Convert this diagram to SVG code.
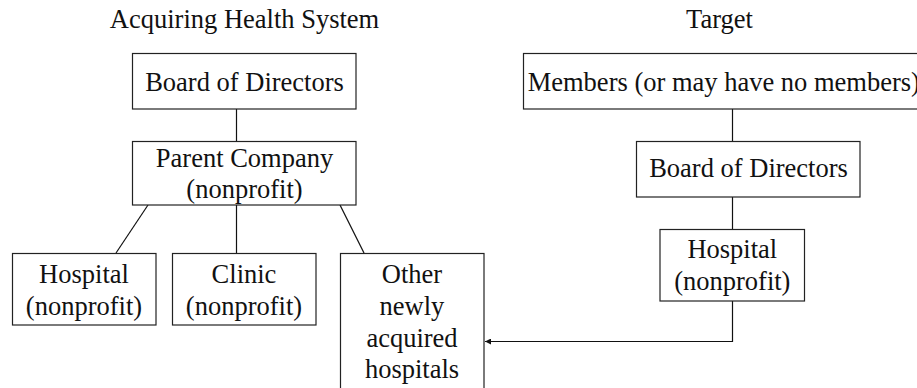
<svg xmlns="http://www.w3.org/2000/svg" width="917" height="388" viewBox="0 0 917 388">
<style>
  text { font-family: 'Liberation Serif', Tinos, 'Times New Roman', Times, 'DejaVu Serif', serif; font-size: 26.5px; fill: #111; text-anchor: middle; }
  .box { fill: #fff; stroke: #222; stroke-width: 1.2; }
  .ln { fill: none; stroke: #111; stroke-width: 1.2; }
</style>
<defs>
  <marker id="arr" viewBox="0 0 10 10" refX="10" refY="5" markerWidth="6" markerHeight="6" markerUnits="userSpaceOnUse" orient="auto">
    <path d="M0,0 L10,5 L0,10 Z" fill="#111"/>
  </marker>
</defs>
<g font-family="'Liberation Serif', Tinos, 'Times New Roman', Times, 'DejaVu Serif', serif">
<text x="244.5" y="27.5">Acquiring Health System</text>
<text x="719.5" y="27.5">Target</text>
<g id="connectors">
  <line class="ln" x1="236.5" y1="109" x2="236.5" y2="141"/>
  <line class="ln" x1="148" y1="205" x2="116" y2="253"/>
  <line class="ln" x1="236.5" y1="205" x2="236.5" y2="253"/>
  <line class="ln" x1="340" y1="205" x2="364" y2="253"/>
  <line class="ln" x1="732.5" y1="109" x2="732.5" y2="141"/>
  <line class="ln" x1="732.5" y1="197" x2="732.5" y2="229"/>
  <polyline class="ln" points="732.5,301 732.5,341.5 485,341.5" marker-end="url(#arr)"/>
</g>
<g id="acq-board">
  <rect class="box" x="132.5" y="53.5" width="223.5" height="55.5"/>
  <text x="244.5" y="90.5">Board of Directors</text>
</g>
<g id="parent">
  <rect class="box" x="132.5" y="141.5" width="223.5" height="63.5"/>
  <text x="244.5" y="166.7">Parent Company</text>
  <text x="244.5" y="198">(nonprofit)</text>
</g>
<g id="acq-hospital">
  <rect class="box" x="12.5" y="253.5" width="143.5" height="71.5"/>
  <text x="84" y="283.3">Hospital</text>
  <text x="84" y="314.5">(nonprofit)</text>
</g>
<g id="clinic">
  <rect class="box" x="172.5" y="253.5" width="143.5" height="71.5"/>
  <text x="244" y="283.3">Clinic</text>
  <text x="244" y="314.5">(nonprofit)</text>
</g>
<g id="other">
  <rect class="box" x="340.5" y="253.5" width="143.5" height="150"/>
  <text x="412" y="283.3">Other</text>
  <text x="412" y="315">newly</text>
  <text x="412" y="346.7">acquired</text>
  <text x="412" y="378.3">hospitals</text>
</g>
<g id="members">
  <rect class="box" x="523.5" y="53.5" width="410" height="55.5"/>
  <text x="527.7" y="90.5" style="text-anchor:start">Members (or may have no members)</text>
</g>
<g id="target-board">
  <rect class="box" x="636.5" y="141.5" width="223.5" height="55.5"/>
  <text x="748.5" y="176.7">Board of Directors</text>
</g>
<g id="target-hospital">
  <rect class="box" x="660" y="229.5" width="144.5" height="71.5"/>
  <text x="732.3" y="258.3">Hospital</text>
  <text x="732.3" y="290">(nonprofit)</text>
</g>
</g>
</svg>
